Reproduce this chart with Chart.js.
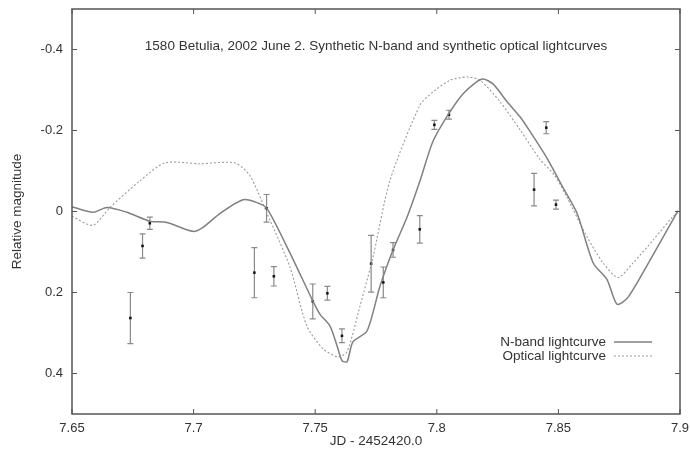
<!DOCTYPE html>
<html>
<head>
<meta charset="utf-8">
<script src="https://cdn.jsdelivr.net/npm/chart.js@4"></script>
<style>
  html, body { margin: 0; padding: 0; background: #fff; }
  #wrap { width: 690px; height: 456px; }
</style>
</head>
<body>
<div id="wrap"><canvas id="myChart" width="690" height="456"></canvas></div>
<script>
// axis ticks
const xTicks = [7.65, 7.7, 7.75, 7.8, 7.85, 7.9];
const yTicks = [-0.4, -0.2, 0, 0.2, 0.4];

// synthetic N-band lightcurve
const nbandX = [7.650, 7.6586, 7.6644, 7.6726, 7.6821, 7.6890, 7.6997, 7.7039, 7.7108, 7.7203,
  7.7261, 7.7302, 7.7396, 7.7491, 7.7520, 7.7561, 7.7590, 7.7610, 7.7631, 7.7655,
  7.7713, 7.7766, 7.7820, 7.7877, 7.7931, 7.7984, 7.8054, 7.8115, 7.8186, 7.8231,
  7.8289, 7.8342, 7.8383, 7.8453, 7.8519, 7.8577, 7.8643, 7.8700, 7.8741, 7.8786,
  7.8877, 7.8992];
const nbandY = [-0.012, 0.002, -0.010, 0.002, 0.024, 0.027, 0.049, 0.039, 0.005, -0.029,
  -0.022, -0.007, 0.102, 0.222, 0.254, 0.283, 0.332, 0.368, 0.371, 0.322,
  0.295, 0.185, 0.095, 0.015, -0.076, -0.173, -0.246, -0.295, -0.327, -0.315,
  -0.271, -0.234, -0.198, -0.132, -0.059, 0.005, 0.127, 0.168, 0.229, 0.212,
  0.120, -0.002];

// synthetic optical lightcurve
const optX = [7.650, 7.6586, 7.6656, 7.6780, 7.6882, 7.7026, 7.7170, 7.7232, 7.7302, 7.7396,
  7.7466, 7.7532, 7.7594, 7.7631, 7.7684, 7.7738, 7.7807, 7.7931, 7.7984, 7.8054,
  7.8124, 7.8178, 7.8260, 7.8342, 7.8424, 7.8486, 7.8536, 7.8618, 7.8684, 7.8745,
  7.8807, 7.8889, 7.8967, 7.8992];
const optY = [0.012, 0.034, -0.010, -0.076, -0.120, -0.118, -0.120, -0.088, 0.005, 0.137,
  0.283, 0.339, 0.359, 0.346, 0.234, 0.112, -0.076, -0.263, -0.295, -0.324,
  -0.332, -0.324, -0.271, -0.202, -0.129, -0.088, -0.034, 0.063, 0.127, 0.163,
  0.127, 0.071, 0.015, 0.002];

// measured points with error bars
const obsX = [7.674, 7.679, 7.682, 7.725, 7.730, 7.733, 7.749, 7.755, 7.761, 7.773,
  7.778, 7.782, 7.793, 7.799, 7.805, 7.840, 7.845, 7.849];
const obsY = [0.263, 0.085, 0.029, 0.151, -0.008, 0.160, 0.222, 0.202, 0.307, 0.129,
  0.175, 0.095, 0.044, -0.214, -0.239, -0.054, -0.207, -0.017];
const obsErr = [0.063, 0.030, 0.015, 0.062, 0.034, 0.024, 0.043, 0.017, 0.017, 0.070,
  0.038, 0.018, 0.034, 0.011, 0.011, 0.040, 0.015, 0.011];

const chartTitle = '1580 Betulia, 2002 June 2. Synthetic N-band and synthetic optical lightcurves';
const legendLabels = ['N-band lightcurve', 'Optical lightcurve'];

const FONT = '"Liberation Sans", Arial, Helvetica, sans-serif';

const toXY = (xs, ys) => xs.map((x, i) => ({ x: x, y: ys[i] }));

// error bars, frame, inward ticks, title and legend inside the plot
const gnuplotLook = {
  id: 'gnuplotLook',
  beforeDatasetsDraw(chart) {
    const ctx = chart.ctx;
    const xs = chart.scales.x, ys = chart.scales.y;
    ctx.save();
    ctx.strokeStyle = '#8a8a8a';
    ctx.lineWidth = 1.2;
    obsX.forEach((x, i) => {
      const px = xs.getPixelForValue(x);
      const top = ys.getPixelForValue(obsY[i] - obsErr[i]);
      const bot = ys.getPixelForValue(obsY[i] + obsErr[i]);
      ctx.beginPath();
      ctx.moveTo(px, top); ctx.lineTo(px, bot);
      ctx.moveTo(px - 3, top); ctx.lineTo(px + 3, top);
      ctx.moveTo(px - 3, bot); ctx.lineTo(px + 3, bot);
      ctx.stroke();
    });
    ctx.restore();
  },
  afterDraw(chart) {
    const ctx = chart.ctx;
    const a = chart.chartArea;
    const xs = chart.scales.x, ys = chart.scales.y;
    ctx.save();
    // frame
    ctx.strokeStyle = '#555';
    ctx.lineWidth = 1.5;
    ctx.strokeRect(a.left, a.top, a.right - a.left, a.bottom - a.top);
    // inward ticks on all four sides
    ctx.lineWidth = 1;
    ctx.beginPath();
    xTicks.forEach(v => {
      const px = xs.getPixelForValue(v);
      ctx.moveTo(px, a.bottom); ctx.lineTo(px, a.bottom - 5);
      ctx.moveTo(px, a.top); ctx.lineTo(px, a.top + 5);
    });
    yTicks.forEach(v => {
      const py = ys.getPixelForValue(v);
      ctx.moveTo(a.left, py); ctx.lineTo(a.left + 5, py);
      ctx.moveTo(a.right, py); ctx.lineTo(a.right - 5, py);
    });
    ctx.stroke();
    // title
    ctx.fillStyle = '#333';
    ctx.font = '13.5px ' + FONT;
    ctx.textAlign = 'center';
    ctx.textBaseline = 'middle';
    ctx.fillText(chartTitle, (a.left + a.right) / 2, a.top + 37);
    // legend
    const lx = a.right - 74, ly = a.bottom - 72;
    ctx.textAlign = 'right';
    ctx.fillText(legendLabels[0], lx, ly);
    ctx.fillText(legendLabels[1], lx, ly + 14);
    ctx.strokeStyle = '#808080';
    ctx.lineWidth = 1.5;
    ctx.beginPath(); ctx.moveTo(lx + 8, ly); ctx.lineTo(lx + 46, ly); ctx.stroke();
    ctx.strokeStyle = '#999';
    ctx.lineWidth = 1.1;
    ctx.setLineDash([2, 2]);
    ctx.beginPath(); ctx.moveTo(lx + 8, ly + 14); ctx.lineTo(lx + 46, ly + 14); ctx.stroke();
    ctx.restore();
  }
};

const ctx = document.getElementById('myChart').getContext('2d');
const myChart = new Chart(ctx, {
  type: 'line',
  data: {
    datasets: [
      {
        label: legendLabels[0],
        data: toXY(nbandX, nbandY),
        borderColor: '#808080',
        borderWidth: 1.5,
        pointRadius: 0,
        tension: 0.25,
        fill: false
      },
      {
        label: legendLabels[1],
        data: toXY(optX, optY),
        borderColor: '#9a9a9a',
        borderWidth: 1.1,
        borderDash: [2, 2],
        pointRadius: 0,
        tension: 0.25,
        fill: false
      },
      {
        label: 'Measured',
        data: toXY(obsX, obsY),
        showLine: false,
        pointStyle: 'rect',
        pointRadius: 1.8,
        pointBackgroundColor: '#111',
        pointBorderColor: '#111',
        pointBorderWidth: 0
      }
    ]
  },
  options: {
    responsive: false,
    animation: false,
    layout: { padding: { top: 9, right: 10, left: 0, bottom: 0 } },
    plugins: {
      legend: { display: false },
      title: { display: false },
      tooltip: { enabled: false }
    },
    scales: {
      x: {
        type: 'linear',
        min: 7.65,
        max: 7.9,
        afterBuildTicks: s => { s.ticks = xTicks.map(v => ({ value: v })); },
        afterFit: s => { s.height = 42; s.paddingLeft = 0; s.paddingRight = 0; },
        grid: { display: false, drawTicks: false },
        border: { display: false },
        ticks: {
          padding: 7,
          color: '#333',
          font: { family: FONT, size: 13 },
          maxRotation: 0,
          callback: v => String(v)
        },
        title: {
          display: true,
          text: 'JD - 2452420.0',
          color: '#333',
          font: { family: FONT, size: 13.5 },
          padding: { top: 0, bottom: 7 }
        }
      },
      y: {
        type: 'linear',
        reverse: true,
        min: -0.5,
        max: 0.5,
        afterBuildTicks: s => { s.ticks = yTicks.map(v => ({ value: v })); },
        afterFit: s => { s.width = 72; s.paddingTop = 0; s.paddingBottom = 0; },
        grid: { display: false, drawTicks: false },
        border: { display: false },
        ticks: {
          padding: 9,
          color: '#333',
          font: { family: FONT, size: 13 },
          callback: v => String(v)
        },
        title: {
          display: true,
          text: 'Relative magnitude',
          color: '#333',
          font: { family: FONT, size: 13.5 },
          padding: { top: 9, bottom: 0 }
        }
      }
    }
  },
  plugins: [gnuplotLook]
});
</script>
</body>
</html>
